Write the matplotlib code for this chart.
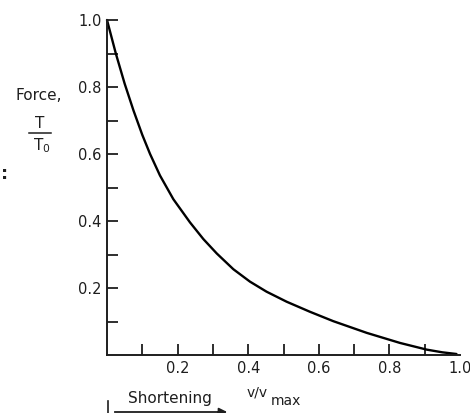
#! /usr/bin/python3

from matplotlib import pyplot as plt
from matplotlib.lines import Line2D

plt.rcParams["font.family"] = "DejaVu Sans"

# force-velocity curve, values
velocity = [0.0, 0.025, 0.05, 0.075, 0.10, 0.122, 0.15, 0.188, 0.235, 0.273, 0.311,
            0.358, 0.405, 0.452, 0.509, 0.575, 0.641, 0.736, 0.830, 0.906, 0.95, 0.99]
force = [1.0, 0.90, 0.81, 0.73, 0.657, 0.600, 0.536, 0.465, 0.396, 0.346, 0.303,
         0.256, 0.219, 0.189, 0.159, 0.129, 0.101, 0.066, 0.036, 0.016, 0.008, 0.003]

major_ticks = [0.2, 0.4, 0.6, 0.8, 1.0]
minor_ticks = [0.1, 0.3, 0.5, 0.7, 0.9]
tick_labels = ["0.2", "0.4", "0.6", "0.8", "1.0"]

W, H = 470, 413
ink = "#1e1e1e"


def fx(px):
    return px / W


def fy(py):
    return 1 - py / H


fig = plt.figure(figsize=(W / 100, H / 100), dpi=100)
ax = fig.add_axes([fx(107), fy(355), fx(460) - fx(107), fy(20) - fy(355)])

ax.plot(velocity, force, color="black", lw=1.7, clip_on=False,
        solid_capstyle="round", solid_joinstyle="round")

ax.set_xlim(0, 1.0)
ax.set_ylim(0, 1.0)
for s in ("top", "right"):
    ax.spines[s].set_visible(False)
for s in ("left", "bottom"):
    ax.spines[s].set_linewidth(1.4)
    ax.spines[s].set_color(ink)

ax.set_xticks(major_ticks, tick_labels)
ax.set_yticks(major_ticks, tick_labels)
ax.set_xticks(minor_ticks, minor=True)
ax.set_yticks(minor_ticks, minor=True)
ax.tick_params(which="both", direction="in", length=8, width=1.3, color=ink,
               labelsize=10.5, labelcolor=ink)
ax.tick_params(axis="x", which="major", pad=4.5)
ax.tick_params(axis="y", which="major", pad=4)
ax.xaxis.get_major_ticks()[-1].tick1line.set_visible(False)

# axis labels
fig.text(fx(39), fy(96), "Force,", fontsize=11, color=ink, ha="center", va="center")
fig.text(fx(40), fy(124), "T", fontsize=11, color=ink, ha="center", va="center")
fig.add_artist(Line2D([fx(29), fx(51)], [fy(133), fy(133)], color=ink, lw=1.1))
fig.text(fx(42), fy(146), "T$_\\mathregular{0}$", fontsize=11, color=ink, ha="center", va="center")
fig.text(fx(5), fy(174), ":", fontsize=13, fontweight="bold", color=ink, ha="center", va="center")

fig.text(fx(247), fy(392), "v/v", fontsize=10, color=ink, ha="left", va="center")
fig.text(fx(271), fy(401), "max", fontsize=10, color=ink, ha="left", va="center")

fig.text(fx(170), fy(399), "Shortening", fontsize=11, color=ink, ha="center", va="center")
fig.add_artist(Line2D([fx(108), fx(108)], [fy(401), fy(413)], color=ink, lw=1.2))
fig.add_artist(Line2D([fx(115), fx(222)], [fy(412), fy(412)], color=ink, lw=1.3))
ax.annotate("", xy=(fx(230), fy(412)), xytext=(fx(215), fy(412)),
            xycoords="figure fraction", textcoords="figure fraction",
            arrowprops=dict(arrowstyle="-|>", color=ink, lw=1.3, mutation_scale=12))

fig.savefig("out.png", dpi=100)
